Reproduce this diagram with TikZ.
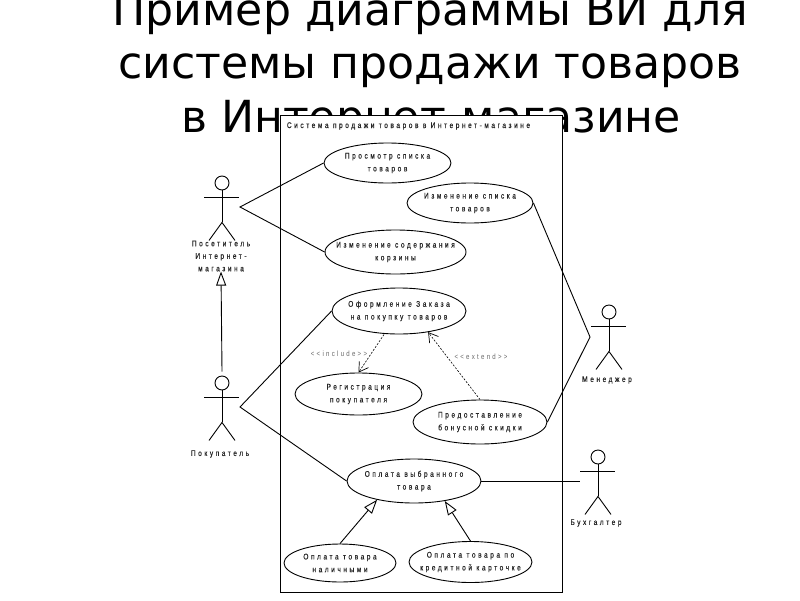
\documentclass[tikz,border=0pt]{standalone}
\usepackage{fontspec}
\usetikzlibrary{arrows.meta,shapes.geometric,calc}
\setmainfont{DejaVu Sans}
\newfontfamily\lab[LetterSpace=31,FakeStretch=0.8,FakeBold=0.25]{Liberation Sans}
\newfontfamily\labthin[LetterSpace=30,FakeStretch=0.8]{Liberation Sans}
\newcommand{\umlactor}[3]{%
  \node[actorhead] (#1) at (#2,#3) {};
  \draw[line] (#1.south) -- ++(0,32) coordinate (#1hip) ++(-13,18) coordinate (#1l) ++(26,0) coordinate (#1r);
  \draw[line] (#1l) -- (#1hip) -- (#1r);
  \draw[line] ($(#1.south)+(-18,7)$) -- ++(35,0);
}
\tikzset{
  line/.style={draw=black,line width=0.9pt},
  usecase/.style={ellipse,draw=black,line width=0.9pt,fill=white,inner sep=-30pt,align=center,
    font=\lab\fontsize{8.2}{12.8}\selectfont,text=black!85},
  actorhead/.style={circle,draw=black,line width=0.9pt,minimum size=14pt,inner sep=0pt},
  actorlabel/.style={align=center,inner sep=0pt,font=\lab\fontsize{8.2}{12.5}\selectfont,text=black!85},
  smalllabel/.style={inner sep=0pt,font=\labthin\fontsize{7.6}{9}\selectfont,text=black!60},
  gen/.style={line,-{Triangle[open,fill=white,length=14pt,width=10pt]}},
  dep/.style={draw=black,line width=0.6pt,dash pattern=on 2pt off 1.5pt,-{Straight Barb[length=9pt,width=11pt,line width=0.7pt]}},
}
\begin{document}
\begin{tikzpicture}[x=1pt,y=-1pt]
\useasboundingbox (0,0) rectangle (800,600);
\fill[white] (0,0) rectangle (800,600);
\node[inner sep=0pt,font=\fontsize{44.2}{53}\selectfont,anchor=base] (t1) at (430.5,25) {Пример диаграммы ВИ для};
\node[inner sep=0pt,font=\fontsize{44.2}{53}\selectfont,anchor=base] (t2) at (430,78) {системы продажи товаров};
\node[inner sep=0pt,font=\fontsize{44.2}{53}\selectfont,anchor=base] (t3) at (431,132) {в Интернет-магазине};
\node[draw=black,line width=1pt,fill=white,minimum width=282pt,minimum height=477pt,inner sep=0pt] (sys) at (421,353.5) {};
\node[actorlabel,anchor=center] (systitle) at (408.5,126) {Система продажи товаров в Интернет-магазине};

\node[usecase,minimum width=127pt,minimum height=40pt] (pros) at (387.5,163) {Просмотр списка\\товаров};
\node[usecase,minimum width=126pt,minimum height=40pt] (izsp) at (470,203) {Изменение списка\\товаров};
\node[usecase,minimum width=141pt,minimum height=44pt] (izso) at (395.5,252) {Изменение содержания\\корзины};
\node[usecase,minimum width=134pt,minimum height=46pt] (ofor) at (399,311) {Оформление Заказа\\на покупку товаров};
\node[usecase,minimum width=127pt,minimum height=42pt] (regi) at (358.5,394) {Регистрация\\покупателя};
\node[usecase,minimum width=134pt,minimum height=44pt] (pred) at (480,422) {Предоставление\\бонусной скидки};
\node[usecase,minimum width=134pt,minimum height=44pt] (opla) at (414,481) {Оплата выбранного\\товара};
\node[usecase,minimum width=112pt,minimum height=38pt] (nali) at (340,563) {Оплата товара\\наличными};
\node[usecase,minimum width=123pt,minimum height=41pt] (kred) at (470.5,562) {Оплата товара по\\кредитной карточке};

\umlactor{vis}{222}{183}
\umlactor{buy}{222}{383}
\umlactor{man}{609}{312}
\umlactor{acc}{598}{457}

\node[actorlabel] (vislab) at (221,256) {Посетитель\\Интернет-\\магазина};
\node[actorlabel] (buylab) at (220,454) {Покупатель};
\node[actorlabel] (manlab) at (607,380) {Менеджер};
\node[actorlabel] (acclab) at (596,523) {Бухгалтер};
\node[smalllabel] (inclab) at (339,354) {<{}<include>{}>};
\node[smalllabel] (extlab) at (481,357) {<{}<extend>{}>};

\coordinate (visa) at (240,207);
\coordinate (buya) at (240,407);
\coordinate (mana) at (590,337);
\coordinate (acca) at (580,481);

\draw[line] (pros.west) -- (visa) -- (izso.west);
\draw[line] (ofor.west) -- (buya) -- (opla.west);
\draw[line] (izsp.east) -- (mana) -- (pred.east);
\draw[line] (opla.east) -- (acca);

\draw[gen] (buy.north) ++(0,-4) coordinate (buytop) (buytop) -- (vislab.south);
\draw[gen] (nali.north) -- (opla.207);
\draw[gen] (kred.north) -- (opla.-33);
\draw[dep] (ofor.south) ++(-15,0) coordinate (incs) (incs) -- (regi.north);
\draw[dep] (pred.north) -- (ofor.-36);
\end{tikzpicture}
\end{document}
